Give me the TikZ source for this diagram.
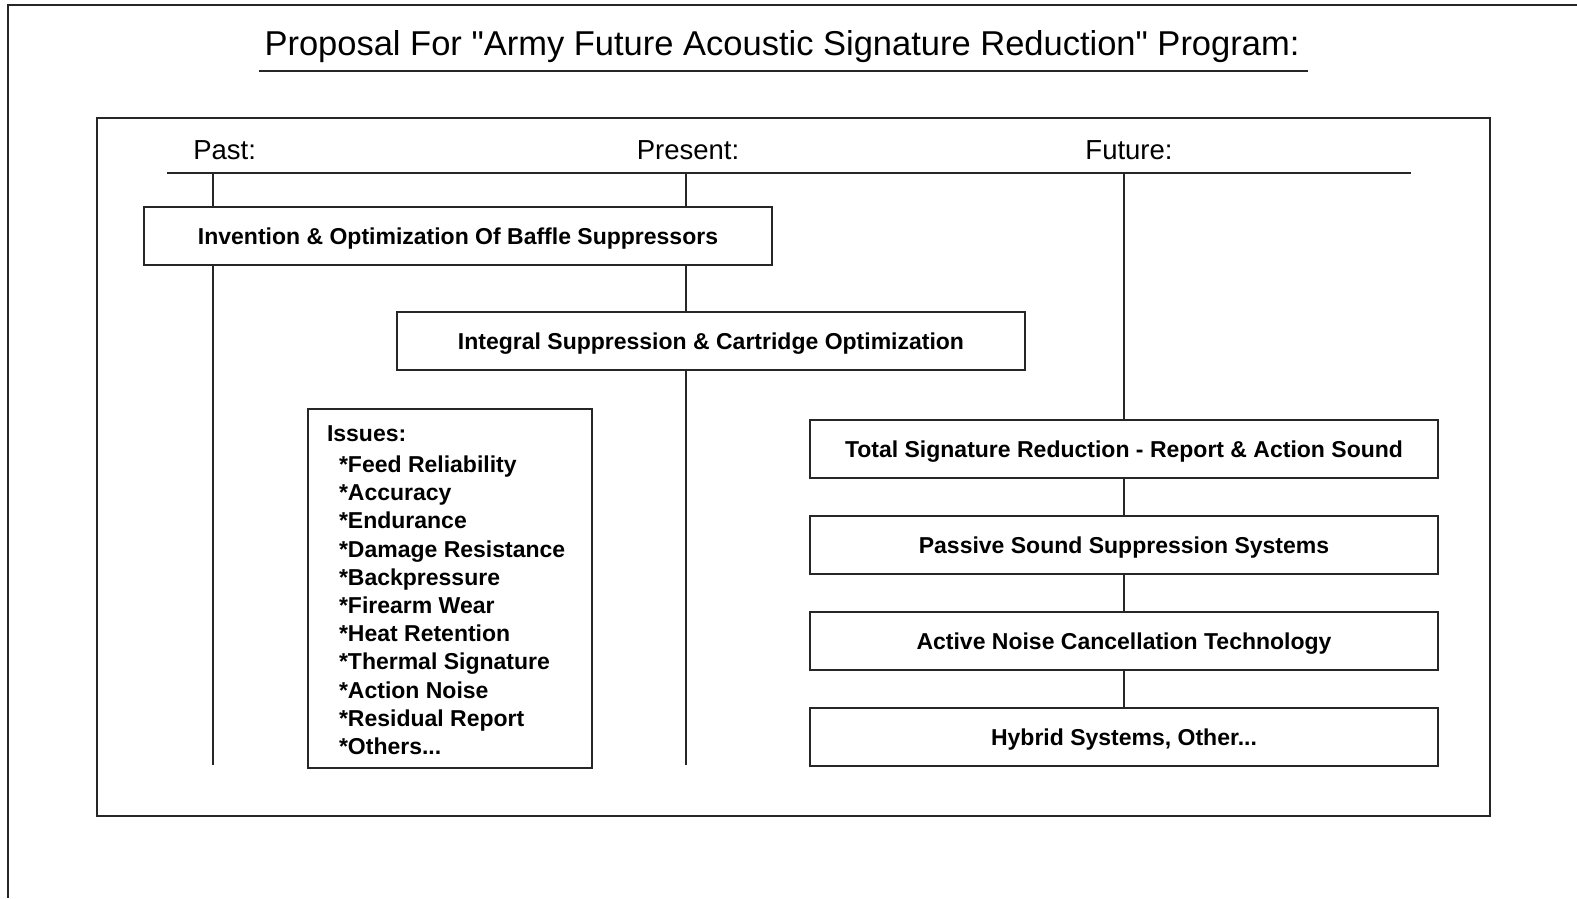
\documentclass[tikz,border=0pt]{standalone}
\usepackage{fontspec}
\setmainfont{Liberation Sans}
\usepackage{tikz}
\usetikzlibrary{calc}

\begin{document}
\begin{tikzpicture}[x=1pt,y=-1pt,line width=2pt,
        stage/.style={draw=black!85,fill=white,minimum width=628pt,minimum height=58pt,inner sep=0pt,
            text depth=0pt,font=\fontsize{23}{26}\selectfont\bfseries},
        era/.style={font=\fontsize{27.5}{32}\selectfont},
        link/.style={draw=black!85,line width=2pt}]
        \useasboundingbox (0,0) rectangle (1577,898);
        \draw[black!85] (1577,5) -- (8,5) -- (8,898);
        \node[font=\fontsize{34.5}{40}\selectfont] (title) at (782,47) {Proposal For \textquotedbl Army Future Acoustic Signature Reduction\textquotedbl{} Program:};
        \draw[black!85] (259,71) -- (1308,71);
        \draw[black!85] (97,118) rectangle (1490,816);
        \draw[black!85] (167,173) -- (1411,173);
        \node[era,anchor=west] (past) at (189,150) {Past:};
        \node[era] (present) at (688,150) {Present:};
        \node[era] (future) at (1129,150) {Future:};
        \coordinate (pastTop) at (213,173);
        \coordinate (pastEnd) at (213,765);
        \coordinate (presentTop) at (686,173);
        \coordinate (presentEnd) at (686,765);
        \coordinate (futureTop) at (1124,173);
        \path[link] (pastTop) -- (pastEnd);
        \path[link] (presentTop) -- (presentEnd);
        \node[stage] (baffle) at (458,236) {Invention \& Optimization Of Baffle Suppressors};
        \node[stage] (integral) at (711,341) {Integral Suppression \& Cartridge Optimization};
        \node[draw=black!85,minimum width=284pt,minimum height=359pt,inner sep=0pt] (issues) at (450,588) {};
        \node[anchor=north west,align=left,inner sep=0pt,font=\fontsize{23}{28.2}\selectfont\bfseries] (issueList) at ($(issues.north west)+(19,17)$)
            {Issues:\\[3pt]
            \hspace{12pt}*Feed Reliability\\
            \hspace{12pt}*Accuracy\\
            \hspace{12pt}*Endurance\\
            \hspace{12pt}*Damage Resistance\\
            \hspace{12pt}*Backpressure\\
            \hspace{12pt}*Firearm Wear\\
            \hspace{12pt}*Heat Retention\\
            \hspace{12pt}*Thermal Signature\\
            \hspace{12pt}*Action Noise\\
            \hspace{12pt}*Residual Report\\
            \hspace{12pt}*Others...};
        \node[stage] (total) at (1124,449) {Total Signature Reduction - Report \& Action Sound};
        \node[stage] (passive) at (1124,545) {Passive Sound Suppression Systems};
        \node[stage] (active) at (1124,641) {Active Noise Cancellation Technology};
        \node[stage] (hybrid) at (1124,737) {Hybrid Systems, Other...};
        \path[link] (futureTop) -- (total.north);
        \path[link] (total) -- (passive);
        \path[link] (passive) -- (active);
        \path[link] (active) -- (hybrid);
    \end{tikzpicture}
\end{document}
